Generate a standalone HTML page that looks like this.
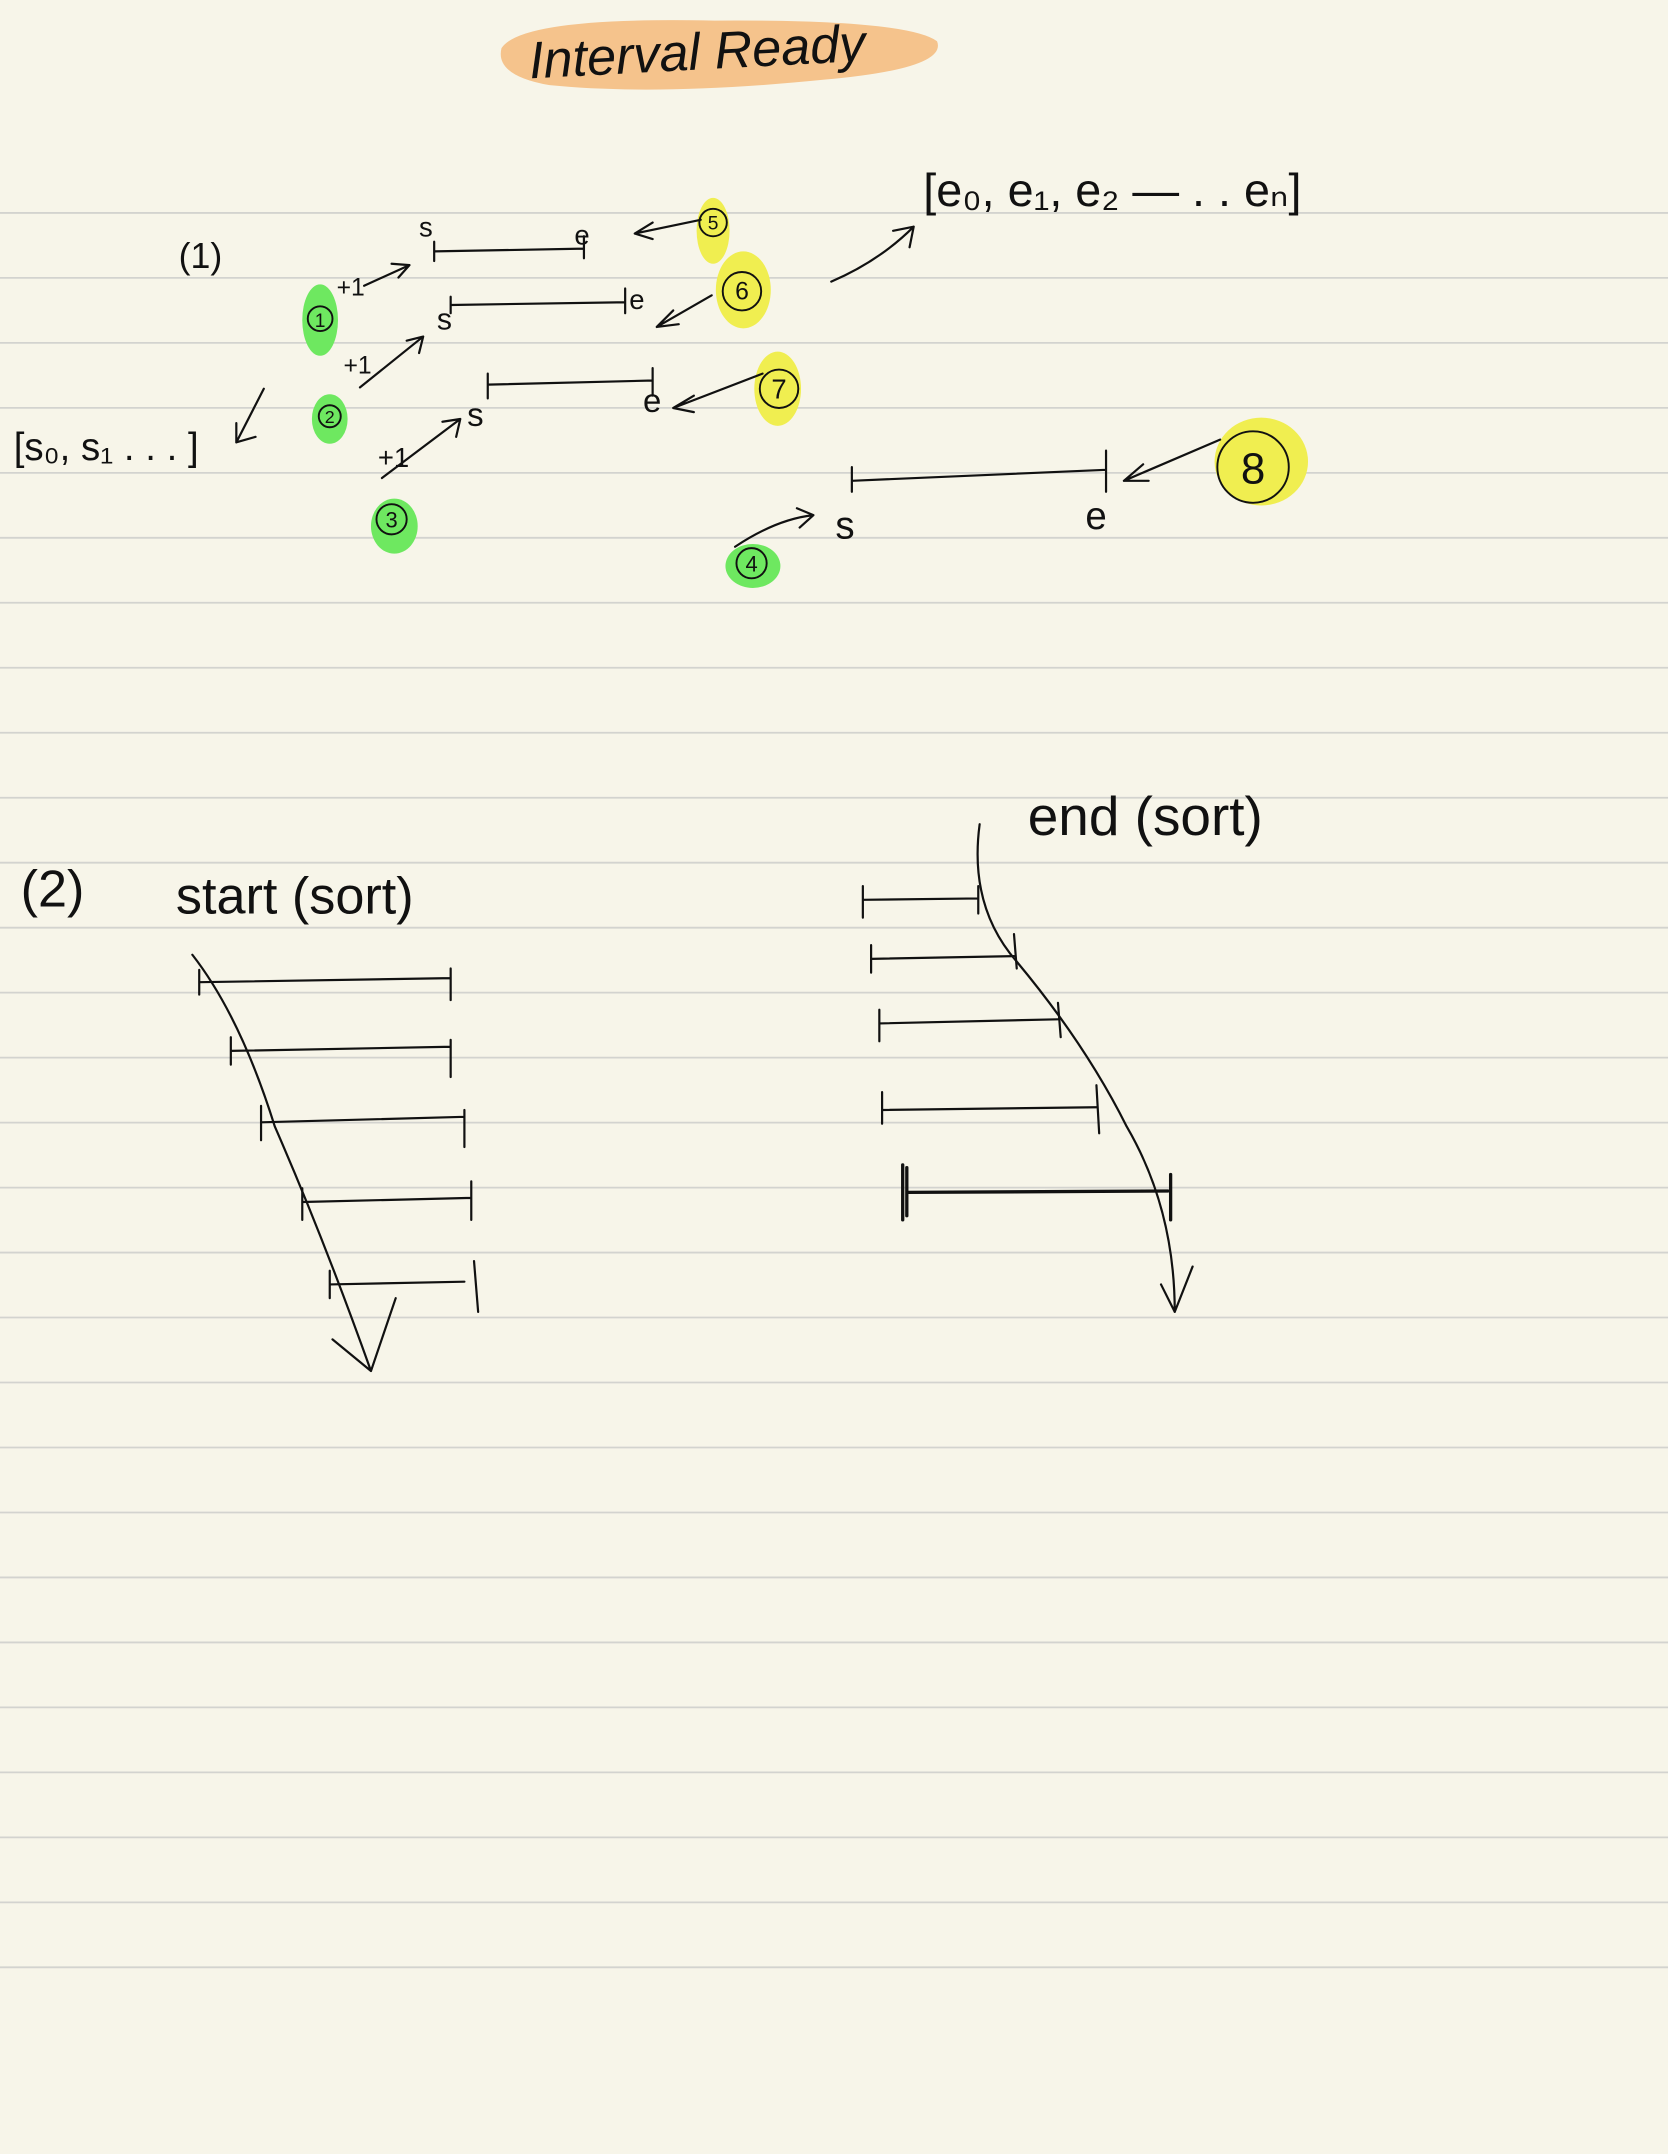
<!DOCTYPE html>
<html><head><meta charset="utf-8">
<style>
html,body{margin:0;padding:0;background:#f7f5e9;}
svg{display:block}
text{font-family:"Liberation Sans",sans-serif;fill:#111;}
</style></head>
<body>
<svg width="1668" height="2154" viewBox="0 0 1214 1568" preserveAspectRatio="none" xmlns="http://www.w3.org/2000/svg">
<rect width="1214" height="1568" fill="#f7f5e9"/>
<g stroke="#d3d3cf" stroke-width="1.3" id="rules"></g>

<g>
<path d="M365 35 Q380 12 520 15 Q660 14 682 30 Q690 50 600 58 Q480 70 400 62 Q360 55 365 35Z" fill="#f5c38c"/>
<text x="385" y="50" font-size="38" font-style="italic" transform="rotate(-3 520 40)">Interval  Ready</text>
</g>

<g fill="none" stroke="#111" stroke-width="1.6" stroke-linecap="round">
<text x="130" y="195" font-size="26" stroke="none">(1)</text>
<text x="672" y="150" font-size="34" stroke="none">[e₀, e₁, e₂ — . . eₙ]</text>
<text x="10" y="335" font-size="28" stroke="none">[s₀, s₁ . . . ]</text>
<path d="M192 283 L172 322 M172 322 L172 308 M172 322 L186 318"/>
<path d="M605 205 Q640 190 665 165 M665 165 L650 168 M665 165 L662 180"/>

<g stroke="none">
<ellipse cx="233" cy="233" rx="13" ry="26" fill="#6ee860"/>
<ellipse cx="240" cy="305" rx="13" ry="18" fill="#6ee860"/>
<ellipse cx="287" cy="383" rx="17" ry="20" fill="#6ee860"/>
<ellipse cx="548" cy="412" rx="20" ry="16" fill="#6ee860"/>
<ellipse cx="519" cy="168" rx="12" ry="24" fill="#f0ee50"/>
<ellipse cx="541" cy="211" rx="20" ry="28" fill="#f0ee50"/>
<ellipse cx="566" cy="283" rx="17" ry="27" fill="#f0ee50"/>
<ellipse cx="918" cy="336" rx="34" ry="32" fill="#f0ee50"/>
</g>
<g stroke-width="1.4">
<circle cx="233" cy="232" r="9"/><circle cx="240" cy="303" r="8"/><circle cx="285" cy="378" r="11"/><circle cx="547" cy="410" r="11"/>
<circle cx="519" cy="162" r="10"/><circle cx="540" cy="212" r="14"/><circle cx="567" cy="283" r="14"/><circle cx="912" cy="340" r="26"/>
</g>
<g stroke="none" text-anchor="middle">
<text x="233" y="238" font-size="14">1</text><text x="240" y="308" font-size="13">2</text>
<text x="285" y="384" font-size="16">3</text><text x="547" y="416" font-size="16">4</text>
<text x="519" y="167" font-size="14">5</text><text x="540" y="218" font-size="18">6</text>
<text x="567" y="290" font-size="20">7</text><text x="912" y="352" font-size="32">8</text>
</g>

<path d="M316 183 L425 181 M316 176 L316 190 M425 172 L425 188"/>
<text x="305" y="172" font-size="20" stroke="none">s</text><text x="418" y="178" font-size="20" stroke="none">e</text>
<path d="M510 160 L462 170 M462 170 L475 162 M462 170 L475 174"/>
<path d="M328 222 L455 220 M328 216 L328 228 M455 210 L455 228"/>
<text x="318" y="240" font-size="22" stroke="none">s</text><text x="458" y="225" font-size="20" stroke="none">e</text>
<path d="M518 215 L478 238 M478 238 L490 226 M478 238 L494 236"/>
<path d="M355 280 L475 277 M355 272 L355 290 M475 268 L475 288"/>
<text x="340" y="310" font-size="24" stroke="none">s</text><text x="468" y="300" font-size="24" stroke="none">e</text>
<path d="M555 272 L490 297 M490 297 L505 288 M490 297 L505 300"/>
<path d="M620 350 L805 342 M620 340 L620 358 M805 328 L805 358"/>
<text x="608" y="392" font-size="28" stroke="none">s</text><text x="790" y="385" font-size="28" stroke="none">e</text>
<path d="M888 320 L818 350 M818 350 L832 338 M818 350 L836 350"/>

<text x="245" y="215" font-size="18" stroke="none">+1</text><path d="M265 208 L298 193 M298 193 L285 192 M298 193 L290 202"/>
<text x="250" y="272" font-size="18" stroke="none">+1</text><path d="M262 282 L308 245 M308 245 L296 248 M308 245 L305 257"/>
<text x="275" y="340" font-size="20" stroke="none">+1</text><path d="M278 348 L335 305 M335 305 L322 307 M335 305 L332 318"/>
<path d="M535 398 Q565 378 592 375 M592 375 L580 370 M592 375 L582 384"/>

<text x="15" y="660" font-size="38" stroke="none">(2)</text>
<text x="128" y="665" font-size="38" stroke="none">start (sort)</text>
<text x="748" y="608" font-size="40" stroke="none">end (sort)</text>

<g>
<path d="M145 715 L328 712 M145 706 L145 724 M328 705 L328 728"/>
<path d="M168 765 L328 762 M168 755 L168 775 M328 757 L328 784"/>
<path d="M190 817 L338 813 M190 805 L190 830 M338 808 L338 835"/>
<path d="M220 875 L343 872 M220 865 L220 888 M343 860 L343 888"/>
<path d="M240 935 L338 933 M240 925 L240 945 M345 918 L348 955"/>
<path d="M140 695 Q175 740 200 820 Q235 900 270 998 M270 998 L242 975 M270 998 L288 945"/>
</g>
<g>
<path d="M628 655 L712 654 M628 645 L628 668 M712 645 L712 665"/>
<path d="M634 698 L738 696 M634 688 L634 708 M738 680 L740 705"/>
<path d="M640 745 L770 742 M640 735 L640 758 M770 730 L772 755"/>
<path d="M642 808 L798 806 M642 795 L642 818 M798 790 L800 825"/>
<path d="M660 868 L850 867 M657 848 L657 888 M660 850 L660 885 M852 855 L852 888" stroke-width="2.4"/>
<path d="M713 600 Q705 660 740 700 Q790 760 820 820 Q855 880 855 955 M855 955 L845 935 M855 955 L868 922"/>
</g>
</g>
<script>
var g=document.getElementById('rules');
for(var i=0;i<28;i++){var y=155+i*47.3;var l=document.createElementNS('http://www.w3.org/2000/svg','line');


l.setAttribute('x1',0);l.setAttribute('x2',1214);l.setAttribute('y1',y);l.setAttribute('y2',y);g.appendChild(l);}
</script>
</svg>
</body></html>
